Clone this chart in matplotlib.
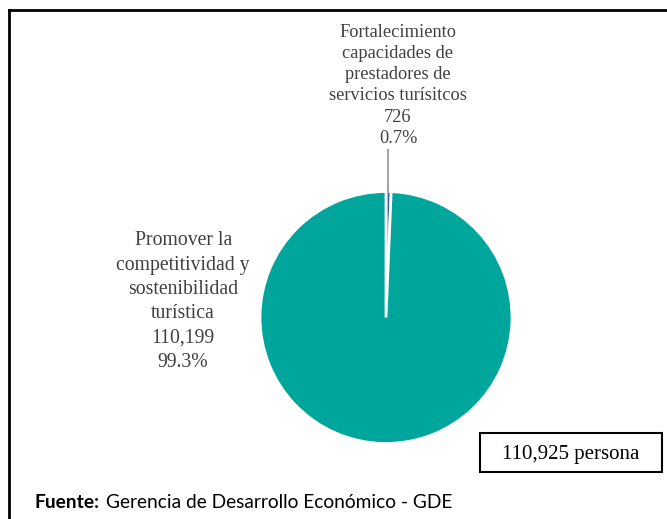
import matplotlib
matplotlib.use("Agg")
import matplotlib.pyplot as plt
from matplotlib.patches import Rectangle
from matplotlib.lines import Line2D

# data
categorias = ["Fortalecimiento\ncapacidades de\nprestadores de\nservicios turísitcos",
              "Promover la\ncompetitividad y\nsostenibilidad\nturística"]
valores = [726, 110199]
colores = ["#2F5597", "#00A59B"]
total = sum(valores)
unidad = "persona"
fuente = "Gerencia de Desarrollo Económico - GDE"

W, H = 667, 519
fig = plt.figure(figsize=(W / 100, H / 100), dpi=100)

# pie axes: centre (386, 317.5) px, radius 126 px
cx, cy, r = 386, 317.5, 126
ax = fig.add_axes([(cx - r) / W, (H - cy - r) / H, 2 * r / W, 2 * r / H])
ax.pie(valores, colors=colores, startangle=90, counterclock=False,
       radius=1, wedgeprops=dict(edgecolor="white", linewidth=2))
ax.set_xlim(-1, 1)
ax.set_ylim(-1, 1)
ax.axis("off")

gris = "#404040"
serif = ["Liberation Serif", "DejaVu Serif"]

def etiqueta(i):
    return f"{categorias[i]}\n{valores[i]:,}\n{valores[i] / total:.1%}"

# top label with leader line
ax.plot([0.016, 0.016], [1.0, 1.33], color="#A6A6A6", lw=1.5, clip_on=False)
ax.text(0.095, 1.355, etiqueta(0), ha="center", va="bottom", fontsize=13.2,
        family=serif, color=gris, linespacing=1.32, clip_on=False)

# left label
ax.text(-1.61, 0.127, etiqueta(1), ha="center", va="center", fontsize=14.2,
        family=serif, color=gris, linespacing=1.38, clip_on=False)

# total box
bx0, bx1, by0, by1 = 480, 662, 433, 472
fig.patches.append(Rectangle((bx0 / W, 1 - by1 / H), (bx1 - bx0) / W, (by1 - by0) / H,
                             transform=fig.transFigure, fill=False,
                             edgecolor="black", lw=1.5))
fig.text((bx0 + bx1) / 2 / W, 1 - (by0 + by1) / 2 / H - 0.004, f"{total:,} {unidad}",
         ha="center", va="center", fontsize=15, family=serif, color="black")

# outer frame (top and left)
fig.lines.append(Line2D([9 / W, 1], [1 - 10 / H, 1 - 10 / H], transform=fig.transFigure,
                        color="black", lw=2))
fig.lines.append(Line2D([9 / W, 9 / W], [0, 1 - 10 / H], transform=fig.transFigure,
                        color="black", lw=2))

# source
t = fig.text(35 / W, 1 - 503 / H, "Fuente:", ha="left", va="center", fontsize=13.8,
             family="Lato", fontweight="bold", color="black")
fig.canvas.draw()
bb = t.get_window_extent()
fig.text((bb.x1 + 6) / W, 1 - 503 / H, fuente, ha="left", va="center", fontsize=13.8,
         family="Lato", color="black")

fig.savefig("out.png", dpi=100)
